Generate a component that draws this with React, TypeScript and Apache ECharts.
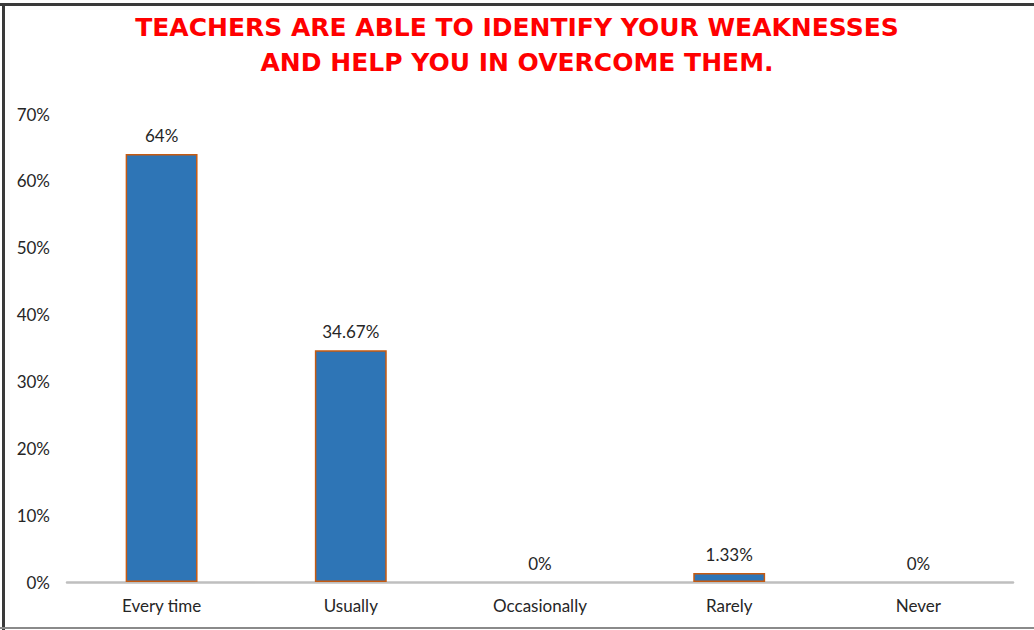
import React, { useEffect, useRef } from "react";
import * as echarts from "echarts";

const categories = ["Every time", "Usually", "Occasionally", "Rarely", "Never"];
const values = [64, 34.67, 0, 1.33, 0];
const valueLabels = ["64%", "34.67%", "0%", "1.33%", "0%"];
const titleLines = [
  "TEACHERS ARE ABLE TO IDENTIFY YOUR WEAKNESSES",
  "AND HELP YOU IN OVERCOME THEM.",
];

export default function App() {
  const ref = useRef<HTMLDivElement>(null);
  useEffect(() => {
    if (!ref.current) return;
    const chart = echarts.init(ref.current, null, { renderer: "svg" });
    const font = "Lato, 'Open Sans', sans-serif";
    chart.setOption({
      animation: false,
      backgroundColor: "#ffffff",
      title: {
        text: titleLines.join("\n"),
        left: "center",
        top: 5,
        textStyle: {
          color: "#FF0000",
          fontWeight: "bold",
          fontSize: 25,
          fontFamily: "'DejaVu Sans', sans-serif",
          lineHeight: 35,
        },
      },
      graphic: [
        { type: "line", shape: { x1: 0, y1: 4.5, x2: 1034, y2: 4.5 }, style: { stroke: "#3a3a3a", lineWidth: 3 } },
        { type: "line", shape: { x1: 3.5, y1: 3, x2: 3.5, y2: 630 }, style: { stroke: "#3a3a3a", lineWidth: 3 } },
        { type: "line", shape: { x1: 0, y1: 628, x2: 1034, y2: 628 }, style: { stroke: "#8a8a8a", lineWidth: 2 } },
      ],
      grid: { left: 67, right: 21, top: 114, bottom: 48 },
      xAxis: {
        type: "category",
        data: categories,
        axisLine: { show: true, lineStyle: { color: "#BFBFBF", width: 2.5 } },
        axisTick: { show: false },
        axisLabel: { color: "#262626", fontSize: 17, fontFamily: font, margin: 15 },
      },
      yAxis: {
        type: "value",
        min: 0,
        max: 70,
        interval: 10,
        splitLine: { show: false },
        axisLine: { show: false },
        axisTick: { show: false },
        axisLabel: { color: "#262626", fontSize: 17, fontFamily: font, margin: 17, formatter: "{value}%" },
      },
      series: [
        {
          type: "bar",
          data: values.map((v) => ({
            value: v,
            itemStyle: v === 0 ? { borderWidth: 0 } : undefined,
          })),
          barWidth: "38%",
          itemStyle: { color: "#2E75B6", borderColor: "#C55A11", borderWidth: 1.5 },
          label: {
            show: true,
            position: "top",
            distance: 10,
            color: "#262626",
            fontSize: 17,
            fontFamily: font,
            formatter: (p: any) => valueLabels[p.dataIndex],
          },
        },
      ],
    });
    return () => chart.dispose();
  }, []);
  return <div ref={ref} style={{ width: 1034, height: 630, position: "absolute", left: 0, top: 0 }} />;
}
